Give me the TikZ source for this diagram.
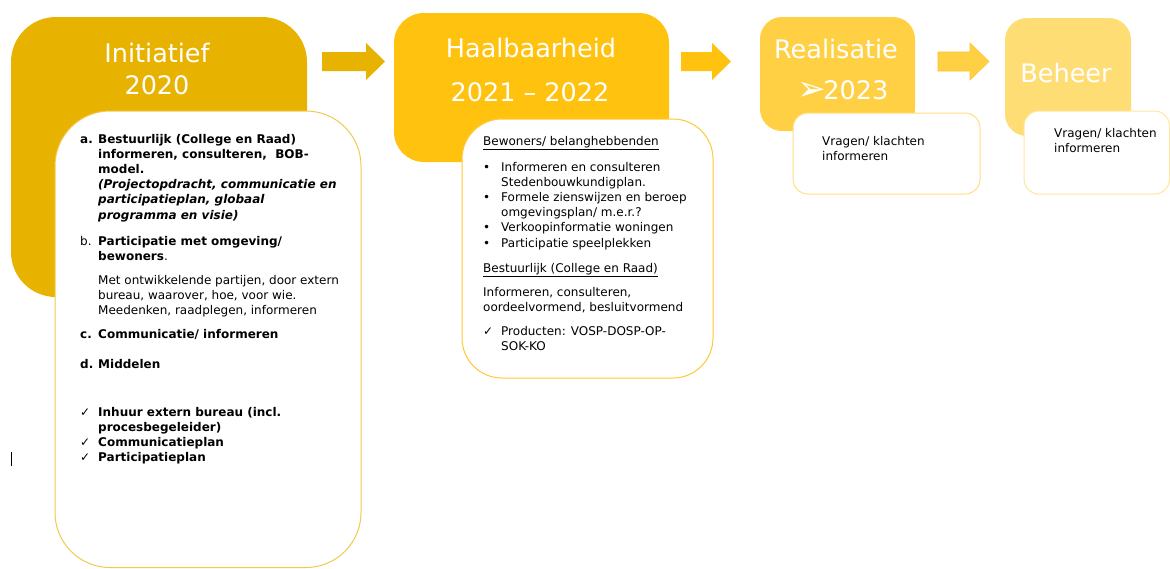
\documentclass[tikz,border=0pt]{standalone}
\usepackage{fontspec}
\setmainfont{DejaVu Sans}
% lines stacked at a fixed pitch; the box's baseline is that of its first line
\newcommand\linestack[1]{\vtop{\baselineskip=15.2pt\lineskiplimit=-20pt\halign{##\hfil\cr #1\crcr}}}
\begin{document}
\begin{tikzpicture}[x=1pt,y=-1pt,
  phase/.style={fill=#1,draw=none},
  card/.style={fill=white,draw=#1,line width=1pt},
  flow/.style={fill=#1,draw=none},
  title/.style={text=white,font=\fontsize{25.5}{30}\selectfont,inner sep=0pt,anchor=base},
  body/.style={font=\fontsize{12}{15.2}\selectfont,inner sep=0pt,anchor=base west},
  bodyb/.style={body,font=\fontsize{12}{15.2}\selectfont\bfseries}]
\definecolor{goldA}{HTML}{E8B200}
\definecolor{goldB}{HTML}{FFC20E}
\definecolor{goldC}{HTML}{FFD044}
\definecolor{goldD}{HTML}{FFDD75}
\definecolor{lineA}{HTML}{F1C94F}
\definecolor{lineB}{HTML}{FFC933}
\definecolor{lineC}{HTML}{FFDE85}
\definecolor{lineD}{HTML}{FFE6A0}
\definecolor{edgeC}{HTML}{F9C52A}
\useasboundingbox (0,0) rectangle (1170,568);
\fill[white] (0,0) rectangle (1170,568);

% phase blocks
\fill[phase=goldA,rounded corners=45pt] (11,17) rectangle (307,297);
\fill[phase=goldB,rounded corners=30pt] (394,13) rectangle (669,162);
\fill[phase=goldC,rounded corners=22pt] (760,17) rectangle (915,131);
\fill[phase=goldD,rounded corners=22pt] (1005,18) rectangle (1131,136);

% arrows between phases
\fill[flow=goldA] (322,52) -- (366,52) -- (366,43) -- (385,61.5) -- (366,80) -- (366,71) -- (322,71) -- cycle;
\fill[flow=goldB] (681,52) -- (712,52) -- (712,43) -- (731,61.5) -- (712,80) -- (712,71) -- (681,71) -- cycle;
\filldraw[fill=goldC,draw=edgeC,line width=0.6pt] (938,52) -- (970,52) -- (970,43) -- (989,61.5) -- (970,80) -- (970,71) -- (938,71) -- cycle;

% phase titles
\node[title] (t1a) at (157,62) {Initiatief};
\node[title] (t1b) at (157,94) {2020};
\node[title] (t2a) at (531,57) {Haalbaarheid};
\node[title] (t2b) at (530,101) {2021 – 2022};
\node[title] (t3a) at (836,58) {Realisatie};
\node[title] (t3b) at (843,99) {\raisebox{-1pt}{\scalebox{1.35}{➢}}\kern-3pt 2023};
\node[title] (t4a) at (1066,82) {Beheer};

% detail cards
\draw[card=lineA,rounded corners=55pt] (55,111) rectangle (361,567.5);
\draw[card=lineB,rounded corners=40pt] (462,119) rectangle (713,378);
\draw[card=lineC,rounded corners=15pt] (793,113) rectangle (980,194);
\draw[card=lineD,rounded corners=15pt] (1024,111) rectangle (1169.5,194);

% card 1
\node[bodyb] (a1) at (80,143) {a.};
\node[bodyb] (a2) at (98,143) {\linestack{Bestuurlijk (College en Raad)\cr informeren, consulteren,\ \ BOB-\cr model.\cr \textit{(Projectopdracht, communicatie en}\cr \textit{participatieplan, globaal}\cr \textit{programma en visie)}}};
\node[body] (b1) at (80,245) {b.};
\node[body] (b2) at (98,245) {\linestack{\textbf{Participatie met omgeving/}\cr \textbf{bewoners}.}};
\node[body] (b3) at (98,284) {\linestack{Met ontwikkelende partijen, door extern\cr bureau, waarover, hoe, voor wie.\cr Meedenken, raadplegen, informeren}};
\node[bodyb] (c1) at (80,338) {c.};
\node[bodyb] (c2) at (98,338) {Communicatie/ informeren};
\node[bodyb] (d1) at (80,368) {d.};
\node[bodyb] (d2) at (98,368) {Middelen};
\node[body] (k1) at (80,416) {\linestack{✓\cr \cr ✓\cr ✓}};
\node[bodyb] (k2) at (98,416) {\linestack{Inhuur extern bureau (incl.\cr procesbegeleider)\cr Communicatieplan\cr Participatieplan}};

% card 2
\node[body] (h1) at (483,145) {\underline{Bewoners/ belanghebbenden}};
\node[body] (p1) at (483,171) {\linestack{•\cr \cr •\cr \cr •\cr •}};
\node[body] (p2) at (501,171) {\linestack{Informeren en consulteren\cr Stedenbouwkundigplan.\cr Formele zienswijzen en beroep\cr omgevingsplan/ m.e.r.?\cr Verkoopinformatie woningen\cr Participatie speelplekken}};
\node[body] (h2) at (483,272) {\underline{Bestuurlijk (College en Raad)}};
\node[body] (q1) at (483,296) {\linestack{Informeren, consulteren,\cr oordeelvormend, besluitvormend}};
\node[body] (r1) at (483,335) {✓};
\node[body] (r2) at (501,335) {\linestack{Producten: VOSP-DOSP-OP-\cr SOK-KO}};

% cards 3 and 4
\node[body] (v3) at (822,145) {\linestack{Vragen/ klachten\cr informeren}};
\node[body] (v4) at (1054,137) {\linestack{Vragen/ klachten\cr informeren}};

% text cursor mark
\draw[black,line width=0.8pt] (11,452) -- (11,466);
\end{tikzpicture}
\end{document}
